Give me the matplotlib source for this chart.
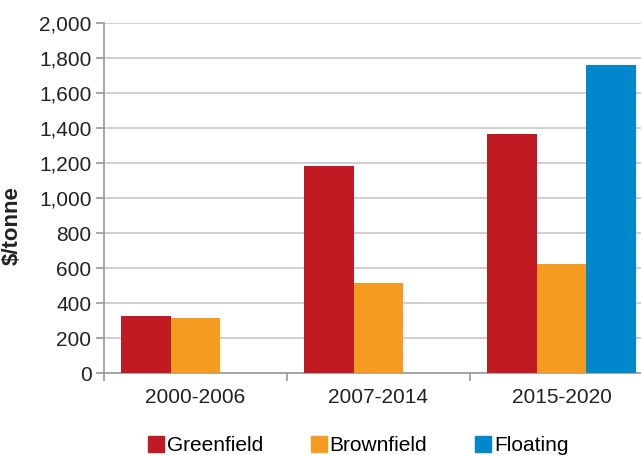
import numpy as np
import matplotlib.pyplot as plt
from matplotlib.ticker import FuncFormatter
from matplotlib.lines import Line2D

plt.rcParams['font.family'] = ['Liberation Sans', 'DejaVu Sans']

periods = ["2000-2006", "2007-2014", "2015-2020"]
series = ["Greenfield", "Brownfield", "Floating"]
greenfield = [326, 1185, 1368]
brownfield = [314, 516, 621]
floating = [0, 0, 1760]
colors = ["#C21A22", "#F59B20", "#0087CC"]

fig = plt.figure(figsize=(6.41, 4.55), dpi=100)
ax = fig.add_axes([0.1622, 0.1802, 0.8565, 0.769])

x = np.arange(len(periods))
w = 0.27
for i, (vals, col) in enumerate(zip([greenfield, brownfield, floating], colors)):
    ax.bar(x + (i - 1) * w, vals, width=w, color=col, zorder=3)

ax.set_xlim(-0.5, 2.5)
ax.set_ylim(0, 2000)
ax.set_yticks(range(0, 2001, 200))
ax.yaxis.set_major_formatter(FuncFormatter(lambda v, p: f"{int(v):,}"))
ax.set_xticks(x)
ax.set_xticklabels(periods)
# category separators on the x axis
ax.set_xticks([-0.5, 0.5, 1.5, 2.5], minor=True)
ax.tick_params(axis="x", which="major", length=0, pad=11, labelsize=15, colors="#222222")
ax.tick_params(axis="x", which="minor", length=6, color="#999999", width=1.2)
ax.tick_params(axis="y", length=6, color="#999999", width=1.2, labelsize=15, colors="#222222", pad=3)

ax.grid(axis="y", color="#CCCCCC", linewidth=1.3, zorder=0)
for side in ["top", "right"]:
    ax.spines[side].set_visible(False)
ax.spines["left"].set_color("#999999")
ax.spines["bottom"].set_color("#999999")
ax.spines["left"].set_linewidth(1.2)
ax.spines["bottom"].set_linewidth(1.2)

ax.set_ylabel("$/tonne", fontsize=16, fontweight="bold", color="#222222")
ax.yaxis.set_label_coords(-0.148, 0.42)

handles = [Line2D([], [], marker="s", linestyle="none", markersize=11,
                  markerfacecolor=c, markeredgecolor=c) for c in colors]
fig.legend(handles, series, loc="center", bbox_to_anchor=(0.557, 0.02), ncol=3,
           frameon=False, fontsize=15, handletextpad=0.0, columnspacing=2.2,
           handlelength=1.0)

plt.savefig("out.png", dpi=100)
